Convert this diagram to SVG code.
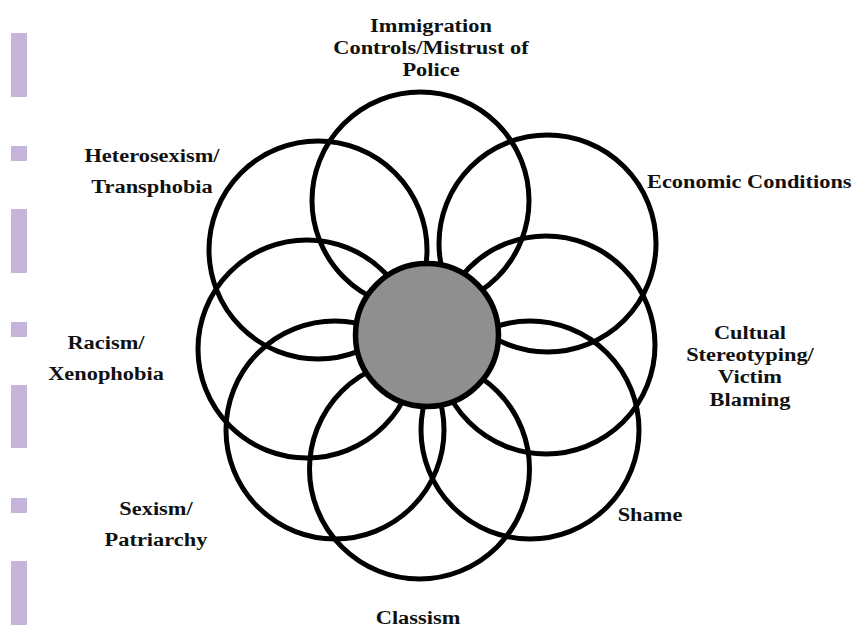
<svg xmlns="http://www.w3.org/2000/svg" width="867" height="629" viewBox="0 0 867 629">
<style>
.bar{fill:#c6b5db}
.petal{fill:none;stroke:#000;stroke-width:5}
.core{fill:#8f8f8f;stroke:#000;stroke-width:5.5}
.lbl{font-family:"Liberation Serif","Times New Roman",serif;font-weight:bold;font-size:19.8px;fill:#111;text-anchor:middle}
.st{text-anchor:start}
</style>
<rect width="867" height="629" fill="#fff"/>
<g id="sidebar">
<rect class="bar" x="11" y="33" width="16" height="64"/>
<rect class="bar" x="11" y="146" width="16" height="15"/>
<rect class="bar" x="11" y="209" width="16" height="64"/>
<rect class="bar" x="11" y="322" width="16" height="15"/>
<rect class="bar" x="11" y="385" width="16" height="63"/>
<rect class="bar" x="11" y="498" width="16" height="15"/>
<rect class="bar" x="11" y="561" width="16" height="64"/>
</g>
<g id="connectors"></g>
<g id="petal-immigration"><circle class="petal" cx="420.5" cy="200.5" r="108.5"/></g>
<g id="petal-economic"><circle class="petal" cx="547.5" cy="243.5" r="108.5"/></g>
<g id="petal-cultural"><circle class="petal" cx="546" cy="345" r="109"/></g>
<g id="petal-shame"><circle class="petal" cx="530" cy="430" r="109"/></g>
<g id="petal-classism"><circle class="petal" cx="419.5" cy="469" r="110"/></g>
<g id="petal-sexism"><circle class="petal" cx="335" cy="430" r="109"/></g>
<g id="petal-racism"><circle class="petal" cx="307" cy="349" r="109"/></g>
<g id="petal-heterosexism"><circle class="petal" cx="318" cy="250" r="109"/></g>
<g id="core"><circle class="core" cx="427" cy="335" r="71.5"/></g>
<g id="labels">
<g id="label-immigration" transform="translate(431,0) scale(1.131,1)">
<text class="lbl" x="0" y="32">Immigration</text>
<text class="lbl" x="0" y="54">Controls/Mistrust of</text>
<text class="lbl" x="0" y="76">Police</text>
</g>
<g id="label-heterosexism" transform="translate(152,0) scale(1.131,1)">
<text class="lbl" x="0" y="162">Heterosexism/</text>
<text class="lbl" x="0" y="193">Transphobia</text>
</g>
<g id="label-economic" transform="translate(647,0) scale(1.131,1)">
<text class="lbl st" x="0" y="188">Economic Conditions</text>
</g>
<g id="label-cultural" transform="translate(750,0) scale(1.131,1)">
<text class="lbl" x="0" y="339">Cultual</text>
<text class="lbl" x="0" y="361">Stereotyping/</text>
<text class="lbl" x="0" y="383.5">Victim</text>
<text class="lbl" x="0" y="406">Blaming</text>
</g>
<g id="label-racism" transform="translate(106,0) scale(1.131,1)">
<text class="lbl" x="0" y="349">Racism/</text>
<text class="lbl" x="0" y="380">Xenophobia</text>
</g>
<g id="label-sexism" transform="translate(156,0) scale(1.131,1)">
<text class="lbl" x="0" y="515">Sexism/</text>
<text class="lbl" x="0" y="546">Patriarchy</text>
</g>
<g id="label-shame" transform="translate(650,0) scale(1.131,1)">
<text class="lbl" x="0" y="521">Shame</text>
</g>
<g id="label-classism" transform="translate(418,0) scale(1.131,1)">
<text class="lbl" x="0" y="624">Classism</text>
</g>
</g>
</svg>
